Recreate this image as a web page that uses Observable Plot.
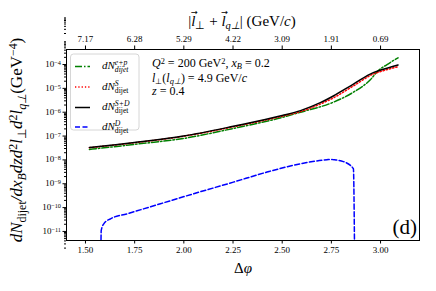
<!DOCTYPE html>
<html>
<head>
<meta charset="utf-8">
<script src="https://cdn.jsdelivr.net/npm/d3@7"></script>
<script src="https://cdn.jsdelivr.net/npm/@observablehq/plot@0.6"></script>
<style>
  html, body { margin: 0; padding: 0; background: white; }
  #chart svg { display: block; }
</style>
</head>
<body>
<div id="chart"></div>
<script>
// ---- data ----
const xTicks = [1.50, 1.75, 2.00, 2.25, 2.50, 2.75, 3.00];
const topTickLabels = ["7.17", "6.28", "5.29", "4.22", "3.09", "1.91", "0.69"];
const yTickExps = [-11, -10, -9, -8, -7, -6, -5, -4];

const phiSD = [1.52, 1.749, 1.998, 2.252, 2.50, 2.593, 2.694, 2.760, 2.862, 2.963, 3.014, 3.089];
const valSD = [3.31e-8, 5.37e-8, 1.0e-7, 2.57e-7, 7.24e-7, 1.17e-6, 2.51e-6, 4.79e-6, 1.51e-5, 4.57e-5, 6.31e-5, 9.55e-5];

const phiS = [1.52, 1.749, 1.998, 2.252, 2.50, 2.593, 2.694, 2.760, 2.862, 2.963, 3.014, 3.089];
const valS = [3.24e-8, 5.25e-8, 9.8e-8, 2.45e-7, 6.8e-7, 1.07e-6, 2.19e-6, 3.98e-6, 1.26e-5, 3.98e-5, 5.5e-5, 8.1e-5];

const phiEP = [1.52, 1.749, 1.998, 2.252, 2.50, 2.593, 2.760, 2.862, 2.948, 2.989, 3.033, 3.089];
const valEP = [2.75e-8, 4.47e-8, 7.94e-8, 2.09e-7, 6.03e-7, 1.0e-6, 2.63e-6, 6.92e-6, 2.29e-5, 5.62e-5, 1.0e-4, 1.91e-4];

const phiD = [1.578, 1.580, 1.593, 1.627, 1.712, 1.881, 2.049, 2.252, 2.423, 2.593, 2.728, 2.745, 2.762, 2.811, 2.862, 2.868];
const valD = [1e-12, 1.1e-11, 2.09e-11, 3.39e-11, 5.5e-11, 1.45e-10, 3.8e-10, 1.17e-9, 3.09e-9, 6.92e-9, 1.02e-8, 1.05e-8, 1.02e-8, 8.5e-9, 4.27e-9, 1e-12];

const toRows = (xs, ys) => xs.map((x, i) => ({x, y: ys[i]}));
const dataEP = toRows(phiEP, valEP);
const dataS = toRows(phiS, valS);
const dataSD = toRows(phiSD, valSD);
const dataD = toRows(phiD, valD);

const yMajor = yTickExps.map(e => Math.pow(10, e));
const yMinor = [];
for (let e = -12; e <= -3; e++) for (let k = 2; k <= 9; k++) yMinor.push(k * Math.pow(10, e));

const chart = Plot.plot({
  width: 436,
  height: 291,
  marginLeft: 66,
  marginRight: 17,
  marginTop: 49,
  marginBottom: 51,
  style: {fontFamily: "'Liberation Serif', serif", fontSize: "9px", background: "white", color: "black"},
  x: {domain: [1.4035, 3.198]},
  y: {type: "log", domain: [Math.pow(10, -11.38), Math.pow(10, -3.37)]},
  marks: [
    Plot.axisX({anchor: "bottom", ticks: xTicks, tickFormat: d => d.toFixed(2), tickSize: 3.5, tickPadding: 3, label: null}),
    Plot.axisX({anchor: "top", ticks: xTicks, tickFormat: d => topTickLabels[xTicks.indexOf(d)], tickSize: 4.5, tickPadding: 3, label: null}),
    Plot.axisY({ticks: yMajor, tickFormat: () => "", tickSize: 3.5, label: null}),
    Plot.axisY({ticks: yMinor, tickFormat: () => "", tickSize: 2, label: null}),
    Plot.line(dataEP, {x: "x", y: "y", stroke: "#008000", strokeWidth: 1.5, strokeDasharray: "7,2,1.5,2", curve: "monotone-x", clip: true}),
    Plot.line(dataS, {x: "x", y: "y", stroke: "#ff0000", strokeWidth: 1.5, strokeDasharray: "1.3,2", curve: "monotone-x", clip: true}),
    Plot.line(dataSD, {x: "x", y: "y", stroke: "black", strokeWidth: 1.5, curve: "monotone-x", clip: true}),
    Plot.line(dataD, {x: "x", y: "y", stroke: "#0000ff", strokeWidth: 1.5, strokeDasharray: "5,2.5", curve: "monotone-x", clip: true}),
    Plot.frame({stroke: "black", strokeWidth: 1})
  ]
});
document.getElementById("chart").appendChild(chart);

// ---- decorations (labels, legend, annotations) ----
const svg = d3.select(chart);
const serif = "'Liberation Serif', serif";
const yScale = chart.scale("y");

function addText(parent, x, y, size, anchor) {
  return parent.append("text").attr("x", x).attr("y", y).attr("text-anchor", anchor || "start")
    .attr("font-family", serif).attr("font-size", size).attr("fill", "black");
}

function rich(sel, parts, subShift, supShift) {
  const arrows = [];
  for (const p of parts) {
    const ts = sel.append("tspan").text(p.t);
    if (p.it) ts.attr("font-style", "italic");
    if (p.sub) ts.attr("baseline-shift", subShift || "-30%").attr("font-size", "70%");
    if (p.sup) ts.attr("baseline-shift", supShift || "40%").attr("font-size", "70%");
    if (p.back) {
      const prev = ts.node().previousSibling;
      const len = prev ? prev.getComputedTextLength() : 0;
      ts.attr("dx", -len);
    }
    if (p.arrow) arrows.push(ts);
  }
  for (const ts of arrows) {
    const n = ts.node();
    const a = n.getStartPositionOfChar(0), b = n.getEndPositionOfChar(0);
    const fs = parseFloat(sel.attr("font-size"));
    const g = d3.select(sel.node().parentNode);
    g.append("text").attr("x", (a.x + b.x) / 2 + fs * 0.08).attr("y", a.y - fs * 0.72)
      .attr("text-anchor", "middle").attr("font-family", "'DejaVu Sans', sans-serif")
      .attr("font-size", fs * 0.55).attr("fill", "black").text("\u2192");
  }
  return sel;
}

// y tick labels 10^n
yTickExps.forEach(e => {
  rich(addText(svg, 61, yScale.apply(Math.pow(10, e)) + 3, 9, "end"),
    [{t: "10"}, {t: "\u2212" + Math.abs(e), sup: true}]);
});

// top axis title
rich(addText(svg, 242, 26, 15, "middle"),
  [{t: "|"}, {t: "l", it: true, arrow: true}, {t: "\u22A5", sub: true}, {t: " + "}, {t: "l", it: true, arrow: true}, {t: "q\u22A5", sub: true, it: true}, {t: "| (GeV/"}, {t: "c", it: true}, {t: ")"}]);

// x label
rich(addText(svg, 243, 273, 15, "middle"), [{t: "\u0394"}, {t: "\u03C6", it: true}]);

// y label
rich(svg.append("text").attr("transform", "translate(22,140) rotate(-90)").attr("text-anchor", "middle")
  .attr("font-family", serif).attr("font-size", 17).attr("fill", "black"),
  [{t: "dN", it: true}, {t: "dijet", sub: true}, {t: "/dx", it: true}, {t: "B", sub: true, it: true},
   {t: "dzd", it: true}, {t: "2", sup: true}, {t: "l", it: true}, {t: "\u22A5", sub: true},
   {t: "d", it: true}, {t: "2", sup: true}, {t: "l", it: true}, {t: "q\u22A5", sub: true, it: true},
   {t: "(GeV"}, {t: "\u22124", sup: true}, {t: ")"}]);

// legend
const lg = svg.append("g");
lg.append("rect").attr("x", 70.5).attr("y", 54).attr("width", 68.5).attr("height", 76).attr("rx", 3)
  .attr("fill", "white").attr("fill-opacity", 0.85).attr("stroke", "#cccccc").attr("stroke-width", 0.8);
const legendItems = [
  {stroke: "#008000", dash: "7,2,1.5,2", parts: [{t: "dN", it: true}, {t: "e+p", sup: true, it: true}, {t: "dijet", sub: true, it: true, back: true}]},
  {stroke: "#ff0000", dash: "1.3,2", parts: [{t: "dN", it: true}, {t: "S", sup: true, it: true}, {t: "dijet", sub: true, back: true}]},
  {stroke: "black", dash: null, parts: [{t: "dN", it: true}, {t: "S+D", sup: true, it: true}, {t: "dijet", sub: true, back: true}]},
  {stroke: "#0000ff", dash: "5,2.5", parts: [{t: "dN", it: true}, {t: "D", sup: true, it: true}, {t: "dijet", sub: true, back: true}]}
];
const legY = [66.5, 87, 107.5, 127];
legendItems.forEach((it, i) => {
  const y = legY[i];
  const ln = lg.append("line").attr("x1", 75).attr("x2", 90).attr("y1", y).attr("y2", y)
    .attr("stroke", it.stroke).attr("stroke-width", 1.5);
  if (it.dash) ln.attr("stroke-dasharray", it.dash);
  rich(addText(lg, 102, y + 2.5, 11), it.parts, "-42%", "48%");
});

// annotation
const ann = [
  [{t: "Q", it: true}, {t: "2", sup: true}, {t: " = 200 GeV"}, {t: "2", sup: true}, {t: ", "}, {t: "x", it: true}, {t: "B", sub: true, it: true}, {t: " = 0.2"}],
  [{t: "l", it: true}, {t: "\u22A5", sub: true}, {t: "("}, {t: "l", it: true}, {t: "q\u22A5", sub: true, it: true}, {t: ") = 4.9 GeV/"}, {t: "c", it: true}],
  [{t: "z", it: true}, {t: " = 0.4"}]
];
const annY = [67, 81.5, 95];
ann.forEach((parts, i) => rich(addText(svg, 152, annY[i], 12), parts));

// (d)
addText(svg, 417, 234, 21, "end").text("(d)");
</script>
</body>
</html>
